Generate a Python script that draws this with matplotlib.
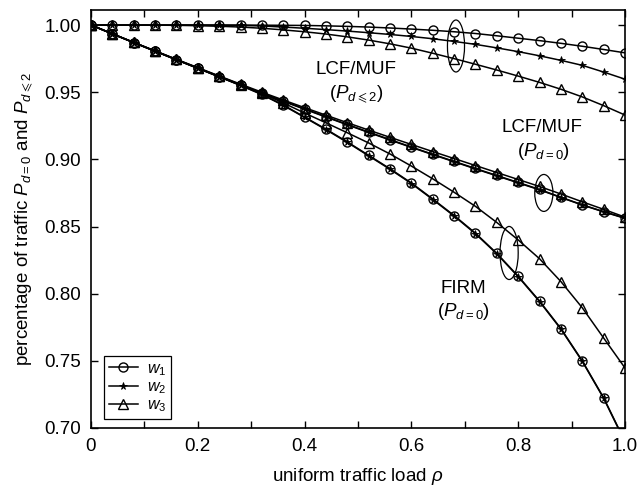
import matplotlib
matplotlib.use("Agg")
import matplotlib.pyplot as plt
from matplotlib.patches import Ellipse
from matplotlib.ticker import MultipleLocator, FixedLocator, FixedFormatter

plt.rcParams['font.family'] = ['Liberation Sans', 'DejaVu Sans']
plt.rcParams['mathtext.fontset'] = 'custom'
plt.rcParams['mathtext.rm'] = 'Liberation Sans'
plt.rcParams['mathtext.it'] = 'Liberation Sans:italic'
plt.rcParams['mathtext.bf'] = 'Liberation Sans:bold'

# uniform traffic load
rho = [0.00, 0.04, 0.08, 0.12, 0.16, 0.20, 0.24, 0.28, 0.32, 0.36, 0.40, 0.44, 0.48,
       0.52, 0.56, 0.60, 0.64, 0.68, 0.72, 0.76, 0.80, 0.84, 0.88, 0.92, 0.96, 1.00]

# LCF/MUF, P_{d<=2}
lcf_d2_w1 = [1.0000, 1.0000, 1.0000, 1.0000, 1.0000, 1.0000, 1.0000, 1.0000, 0.9999, 0.9998, 0.9997, 0.9994, 0.9990,
             0.9985, 0.9978, 0.9970, 0.9961, 0.9950, 0.9937, 0.9920, 0.9902, 0.9884, 0.9864, 0.9842, 0.9818, 0.9793]
lcf_d2_w2 = [1.0000, 1.0000, 1.0000, 1.0000, 1.0000, 1.0000, 0.9999, 0.9997, 0.9993, 0.9985, 0.9976, 0.9966, 0.9955,
             0.9943, 0.9930, 0.9915, 0.9898, 0.9878, 0.9856, 0.9830, 0.9802, 0.9771, 0.9737, 0.9700, 0.9650, 0.9597]
lcf_d2_w3 = [1.0000, 1.0000, 1.0000, 0.9999, 0.9998, 0.9995, 0.9991, 0.9985, 0.9976, 0.9964, 0.9950, 0.9933, 0.9912,
             0.9888, 0.9860, 0.9828, 0.9790, 0.9750, 0.9708, 0.9665, 0.9620, 0.9573, 0.9522, 0.9465, 0.9400, 0.9330]

# LCF/MUF, P_{d=0}
lcf_d0_w1 = [1.0000, 0.9935, 0.9870, 0.9806, 0.9742, 0.9679, 0.9616, 0.9554, 0.9493, 0.9434, 0.9376, 0.9318, 0.9260,
             0.9203, 0.9147, 0.9092, 0.9038, 0.8985, 0.8932, 0.8880, 0.8828, 0.8776, 0.8718, 0.8662, 0.8611, 0.8563]
lcf_d0_w2 = [1.0000, 0.9934, 0.9869, 0.9805, 0.9741, 0.9678, 0.9615, 0.9553, 0.9492, 0.9432, 0.9373, 0.9315, 0.9257,
             0.9200, 0.9144, 0.9089, 0.9035, 0.8982, 0.8929, 0.8877, 0.8825, 0.8773, 0.8716, 0.8660, 0.8609, 0.8561]
lcf_d0_w3 = [1.0000, 0.9935, 0.9871, 0.9808, 0.9745, 0.9683, 0.9621, 0.9560, 0.9500, 0.9442, 0.9385, 0.9329, 0.9273,
             0.9218, 0.9164, 0.9111, 0.9058, 0.9006, 0.8954, 0.8902, 0.8850, 0.8798, 0.8742, 0.8684, 0.8628, 0.8570]

# FIRM, P_{d=0}
firm_w1 = [1.0000, 0.9935, 0.9870, 0.9806, 0.9742, 0.9679, 0.9616, 0.9552, 0.9485, 0.9405, 0.9315, 0.9225, 0.9130,
           0.9030, 0.8930, 0.8824, 0.8705, 0.8582, 0.8450, 0.8300, 0.8130, 0.7945, 0.7740, 0.7500, 0.7225, 0.6900]
firm_w2 = [1.0000, 0.9934, 0.9869, 0.9805, 0.9741, 0.9678, 0.9614, 0.9550, 0.9482, 0.9402, 0.9312, 0.9221, 0.9126,
           0.9026, 0.8926, 0.8820, 0.8701, 0.8578, 0.8446, 0.8296, 0.8126, 0.7941, 0.7736, 0.7496, 0.7221, 0.6895]
firm_w3 = [1.0000, 0.9935, 0.9871, 0.9807, 0.9744, 0.9681, 0.9619, 0.9556, 0.9492, 0.9420, 0.9345, 0.9272, 0.9198,
           0.9122, 0.9040, 0.8950, 0.8855, 0.8755, 0.8650, 0.8530, 0.8400, 0.8260, 0.8090, 0.7895, 0.7670, 0.7447]

xtick_vals = [0, 0.2, 0.4, 0.6, 0.8, 1.0]
xtick_labels = ['0', '0.2', '0.4', '0.6', '0.8', '1.0']
ytick_vals = [0.70, 0.75, 0.80, 0.85, 0.90, 0.95, 1.00]
ytick_labels = ['0.70', '0.75', '0.80', '0.85', '0.90', '0.95', '1.00']

fig = plt.figure(figsize=(6.37, 4.91), dpi=100)
ax = fig.add_axes([91 / 637, 1 - 428 / 491, 534 / 637, 418 / 491])

styles = {
    'w1': dict(marker='o', ms=6.5, mfc='none', mec='black', mew=1.0),
    'w2': dict(marker='*', ms=5.5, mfc='black', mec='black', mew=0.6),
    'w3': dict(marker='^', ms=7, mfc='none', mec='black', mew=1.0),
}

groups = [
    (lcf_d2_w1, lcf_d2_w2, lcf_d2_w3),
    (lcf_d0_w1, lcf_d0_w2, lcf_d0_w3),
    (firm_w1, firm_w2, firm_w3),
]
for gi, (y1, y2, y3) in enumerate(groups):
    for key, y in zip(['w1', 'w2', 'w3'], [y1, y2, y3]):
        lab = '$w_%s$' % key[1] if gi == 0 else None
        ax.plot(rho, y, color='black', lw=1.1, label=lab, **styles[key])

# ellipses grouping the curves
for (cx, cy, w, h) in [(0.6835, 0.9844, 0.032, 0.0387),
                       (0.848, 0.875, 0.034, 0.0275),
                       (0.783, 0.8303, 0.034, 0.0395)]:
    ax.add_patch(Ellipse((cx, cy), w, h, fill=False, ec='black', lw=0.9))

fs = 13.5
ax.text(0.496, 0.967, 'LCF/MUF', fontsize=fs, ha='center', va='center')
ax.text(0.496, 0.9486, r'($P_{d\leqslant 2}$)', fontsize=fs, ha='center', va='center')
ax.text(0.845, 0.924, 'LCF/MUF', fontsize=fs, ha='center', va='center')
ax.text(0.848, 0.9055, r'($P_{d=0}$)', fontsize=fs, ha='center', va='center')
ax.text(0.698, 0.8042, 'FIRM', fontsize=fs, ha='center', va='center')
ax.text(0.698, 0.7864, r'($P_{d=0}$)', fontsize=fs, ha='center', va='center')

ax.set_xlim(0, 1.0)
ax.set_ylim(0.70, 1.0112)
ax.xaxis.set_major_locator(FixedLocator(xtick_vals))
ax.xaxis.set_major_formatter(FixedFormatter(xtick_labels))
ax.xaxis.set_minor_locator(MultipleLocator(0.1))
ax.yaxis.set_major_locator(FixedLocator(ytick_vals))
ax.yaxis.set_major_formatter(FixedFormatter(ytick_labels))
ax.tick_params(which='both', direction='in', top=True, right=True, length=5, width=1.0,
               labelsize=fs, pad=7)
for sp in ax.spines.values():
    sp.set_linewidth(1.2)

ax.set_xlabel(r'uniform traffic load $\rho$', fontsize=fs, labelpad=8)
ax.set_ylabel(r'percentage of traffic $P_{d=0}$ and $P_{d\leqslant 2}$', fontsize=fs, labelpad=7)

leg = ax.legend(loc='lower left', bbox_to_anchor=(13 / 534, 9 / 418), borderaxespad=0,
                fontsize=11.5, frameon=True, fancybox=False, framealpha=1, edgecolor='black',
                handlelength=1.8, labelspacing=0.1, borderpad=0.3, handletextpad=0.6, numpoints=1)
leg.get_frame().set_linewidth(0.9)

fig.savefig('out.png', dpi=100)
